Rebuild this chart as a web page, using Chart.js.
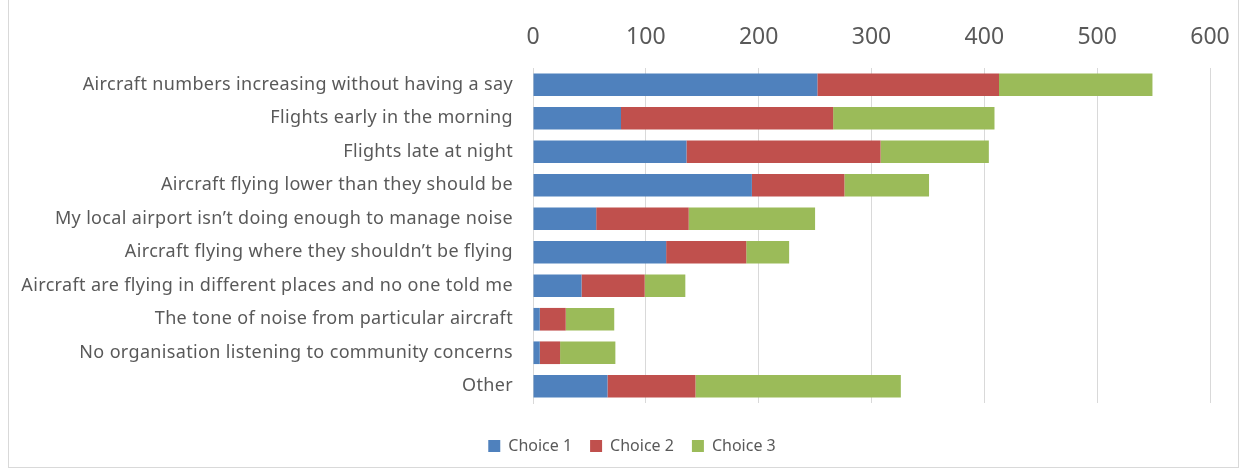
<!DOCTYPE html>
<html>
<head>
<meta charset="utf-8">
<script src="https://cdn.jsdelivr.net/npm/chart.js@4.4.0/dist/chart.umd.min.js"></script>
<style>
  html, body { margin: 0; padding: 0; background: #fff; }
  #wrap { position: relative; width: 1247px; height: 472px; overflow: hidden; }
  #frame { position: absolute; left: 8px; top: -2px; width: 1231px; height: 470px; border: 1px solid #D9D9D9; box-sizing: border-box; }
  canvas { position: absolute; left: 0; top: 0; }
</style>
</head>
<body>
<div id="wrap">
  <div id="frame"></div>
  <canvas id="c" width="1247" height="472"></canvas>
</div>
<script>
const categories = [
  "Aircraft numbers increasing without having a say",
  "Flights early in the morning",
  "Flights late at night",
  "Aircraft flying lower than they should be",
  "My local airport isn\u2019t doing enough to manage noise",
  "Aircraft flying where they shouldn\u2019t be flying",
  "Aircraft are flying in different places and no one told me",
  "The tone of noise from particular aircraft",
  "No organisation listening to community concerns",
  "Other"
];
const choice1 = [252, 78, 136, 194, 56, 118, 43, 6, 6, 66];
const choice2 = [161, 188, 172, 82, 82, 71, 56, 23, 18, 78];
const choice3 = [136, 143, 96, 75, 112, 38, 36, 43, 49, 182];
const seriesNames = ["Choice 1", "Choice 2", "Choice 3"];
const xTicks = [0, 100, 200, 300, 400, 500, 600];

const colors = ["#4F81BD", "#C0504D", "#9BBB59"];
const textColor = "#595959";
const fontFamily = "'Noto Sans', 'Open Sans', sans-serif";

const spacedLabels = {
  id: 'spacedLabels',
  afterLayout(chart) {
    const sc = chart.scales.y;
    if (sc && !sc._patched) {
      const orig = sc.drawLabels;
      sc.drawLabels = function (area) {
        const ctx = this.ctx;
        ctx.save();
        ctx.letterSpacing = '0.35px';
        orig.call(this, area);
        ctx.restore();
      };
      sc._patched = true;
    }
  }
};

new Chart(document.getElementById('c'), {
  type: 'bar',
  data: {
    labels: categories,
    datasets: [choice1, choice2, choice3].map((d, i) => ({
      label: seriesNames[i],
      data: d,
      backgroundColor: colors[i],
      borderWidth: 0,
      barPercentage: 0.676,
      categoryPercentage: 1.0
    }))
  },
  plugins: [spacedLabels],
  options: {
    indexAxis: 'y',
    responsive: false,
    animation: false,
    layout: { padding: { left: 17, right: 0, top: 12, bottom: 8 } },
    plugins: {
      legend: {
        position: 'bottom',
        labels: {
          boxWidth: 12, boxHeight: 12, padding: 18,
          color: textColor,
          font: { family: fontFamily, size: 16 }
        }
      },
      tooltip: { enabled: false }
    },
    scales: {
      x: {
        position: 'top',
        stacked: true,
        min: 0, max: 600,
        afterBuildTicks: s => { s.ticks = xTicks.map(v => ({ value: v })); },
        afterFit: s => { s.height = 56; },
        grid: { color: '#D9D9D9', lineWidth: 1, drawTicks: false },
        border: { display: false },
        ticks: { color: textColor, padding: 17, font: { family: fontFamily, size: 23 } }
      },
      y: {
        stacked: true,
        afterFit: s => { s.width = 516; },
        grid: { display: false, drawTicks: false },
        border: { display: true, color: '#D9D9D9' },
        ticks: { color: textColor, padding: 20, font: { family: fontFamily, size: 18 } }
      },
      yDummy: {
        type: 'linear',
        position: 'right',
        display: true,
        afterFit: s => { s.width = 37; },
        grid: { display: false, drawTicks: false },
        border: { display: false },
        ticks: { display: false }
      },
      xDummy: {
        type: 'linear',
        position: 'bottom',
        display: true,
        afterFit: s => { s.height = 17; },
        grid: { display: false, drawTicks: false },
        border: { display: false },
        ticks: { display: false }
      }
    }
  }
});
</script>
</body>
</html>
